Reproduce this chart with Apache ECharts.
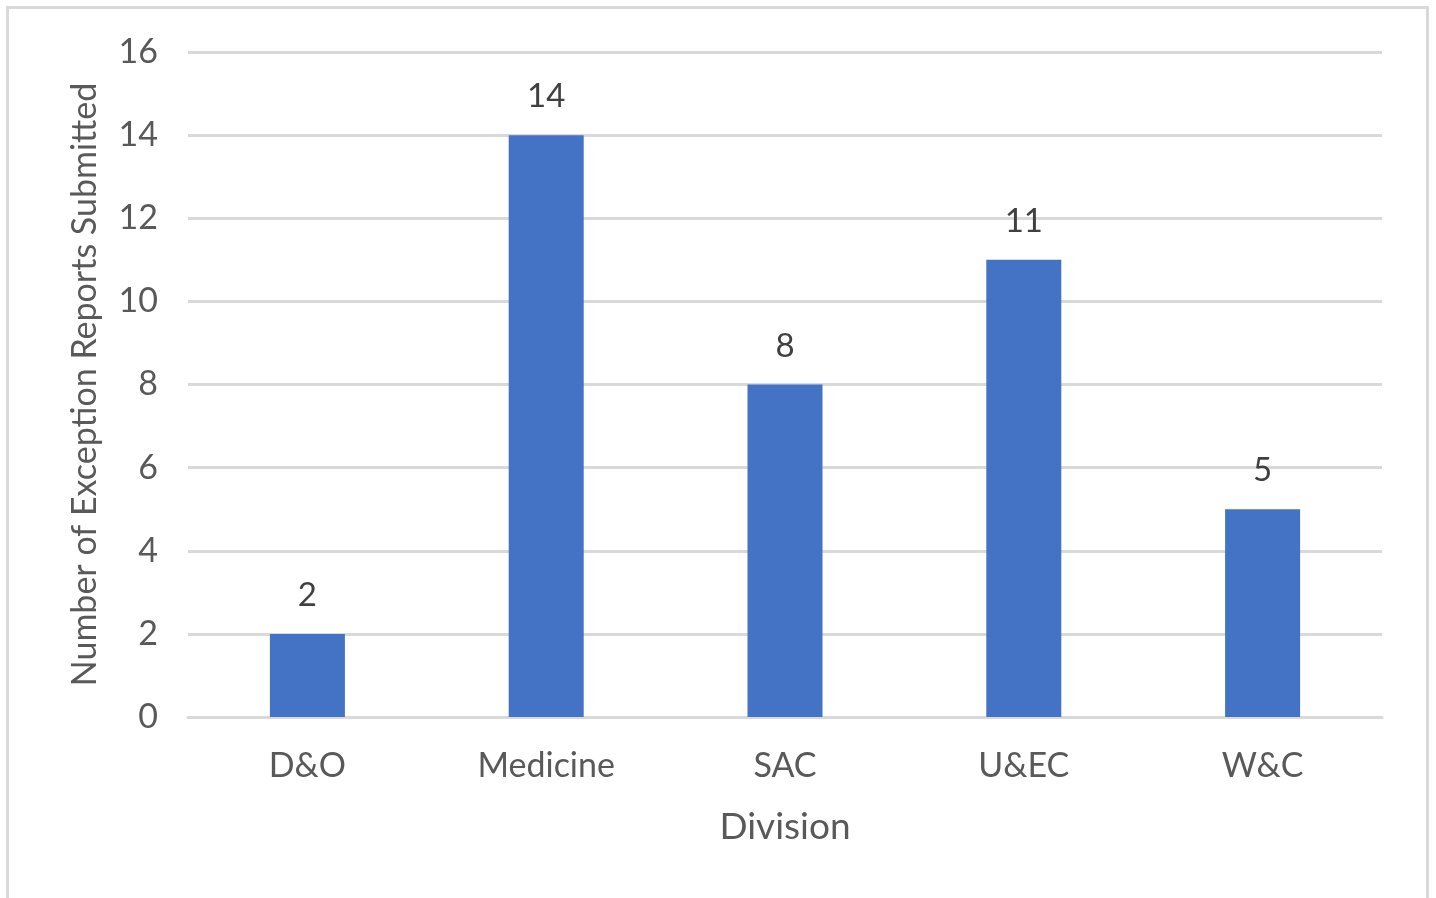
<!DOCTYPE html>
<html><head><meta charset="utf-8">
<script src="https://cdn.jsdelivr.net/npm/echarts@6/dist/echarts.min.js"></script>
<style>
html,body{margin:0;padding:0;background:#fff;overflow:hidden}
#frame{position:absolute;left:6px;top:6px;width:1423px;height:910px;border:3px solid #d9d9d9;box-sizing:border-box}
#chart{position:absolute;left:0;top:0;width:1436px;height:898px}
</style></head>
<body>
<div id="frame"></div>
<div id="chart"></div>
<script>
const categories = ['D&O', 'Medicine', 'SAC', 'U&EC', 'W&C'];
const values = [2, 14, 8, 11, 5];
const yTitle = 'Number of Exception Reports Submitted';
const xTitle = 'Division';

const FONT = 'Lato, "Open Sans", sans-serif';
const chart = echarts.init(document.getElementById('chart'));
chart.setOption({
  backgroundColor: 'transparent',
  animation: false,
  grid: {left: 188, right: 54, top: 52, bottom: 181},
  xAxis: {
    type: 'category', data: categories,
    name: xTitle, nameLocation: 'middle', nameGap: 92,
    nameTextStyle: {color: '#595959', fontSize: 37, fontFamily: FONT},
    axisLine: {show: true, lineStyle: {color: '#d9d9d9', width: 3}},
    axisTick: {show: false},
    axisLabel: {color: '#595959', fontSize: 34, fontFamily: FONT, margin: 32}
  },
  yAxis: {
    type: 'value', min: 0, max: 16, interval: 2,
    name: yTitle, nameLocation: 'middle', nameGap: 86, nameRotate: 90,
    nameTextStyle: {color: '#595959', fontSize: 34, fontFamily: FONT},
    axisLine: {show: false}, axisTick: {show: false},
    axisLabel: {color: '#595959', fontSize: 34, fontFamily: FONT, margin: 30},
    splitLine: {lineStyle: {color: '#d9d9d9', width: 3}}
  },
  series: [{
    type: 'bar', data: values, barWidth: 75,
    itemStyle: {color: '#4472C4'},
    label: {show: true, position: 'top', distance: 22, color: '#404040', fontSize: 33, fontFamily: FONT}
  }]
});
</script>
</body></html>
